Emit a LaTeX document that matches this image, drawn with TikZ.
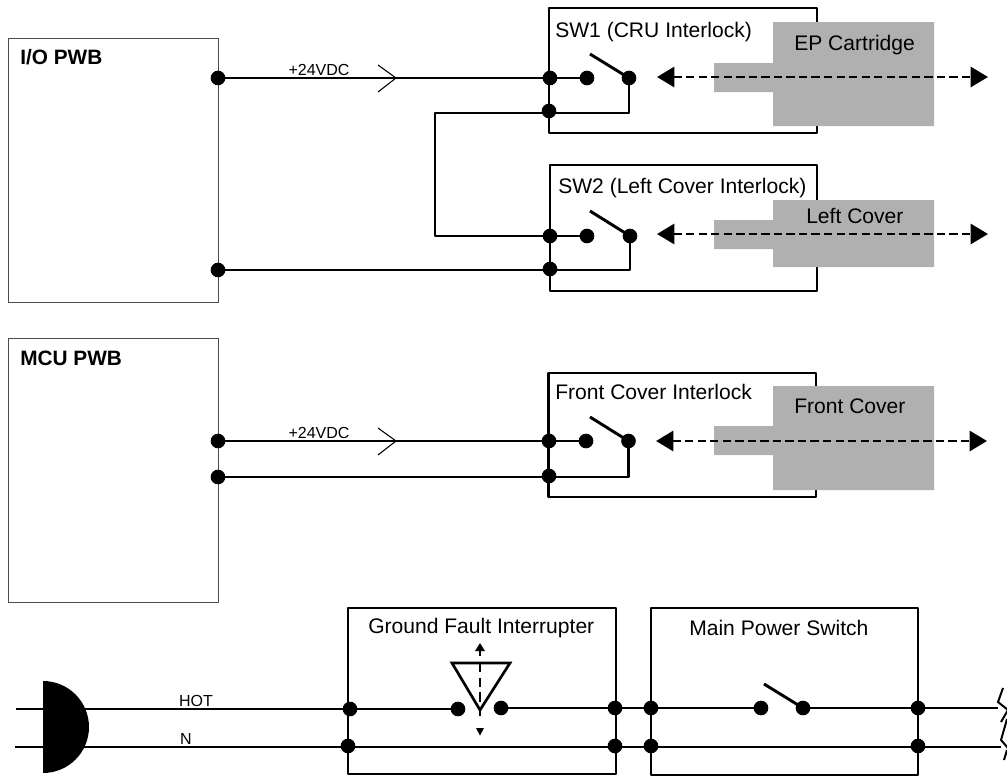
\documentclass[tikz,border=0pt]{standalone}
\usepackage{fontspec}
\setmainfont{Liberation Sans}
\usetikzlibrary{arrows.meta}
\tikzset{
  wire/.style={line width=2.2pt,line join=round},
  ibox/.style={draw=black!70,line width=0.8pt,fill=white},
  swbox/.style={draw=black,line width=2.2pt,line join=round},
  graypart/.style={fill=black!31,draw=none},
  dotn/.style={circle,fill=black,draw=none,minimum size=11pt,inner sep=0pt},
  dasharrow/.style={line width=2.2pt,dash pattern=on 6.2pt off 3.2pt,{Triangle[length=13pt,width=15pt]}-{Triangle[length=13pt,width=15pt]}},
  lbl/.style={font=\fontsize{15.8}{18}\selectfont,inner sep=0pt,anchor=base west},
  blbl/.style={font=\fontsize{15.6}{18}\selectfont\bfseries,inner sep=0pt,anchor=base west},
  small/.style={font=\fontsize{12}{14}\selectfont,inner sep=0pt,anchor=base},
}
\begin{document}
\begin{tikzpicture}[x=0.75pt,y=-0.75pt]
\useasboundingbox (0,0) rectangle (1007,778);
% PWB boxes
\node[ibox,minimum width=157.5pt,minimum height=198pt,inner sep=0pt,anchor=north west] (io) at (8,38) {};
\node[ibox,minimum width=157.5pt,minimum height=198pt,inner sep=0pt,anchor=north west] (mcu) at (8,338) {};
\node[blbl] (iot) at (20,64) {I/O PWB};
\node[blbl] (mcut) at (20,365) {MCU PWB};
% Switch boxes
\draw[swbox] (549,8) rectangle (817,133);
\draw[swbox] (550,165) rectangle (817,291);
\draw[swbox] (548.5,373) rectangle (816,497);
\draw[swbox] (348,608) rectangle (616,774);
\draw[swbox] (651,608) rectangle (918,775);
% gray parts
\fill[graypart] (773,22) rectangle (934,126) (714,63) rectangle (773,92);
\fill[graypart] (773,200) rectangle (934,267) (714,220) rectangle (773,249);
\fill[graypart] (773,386) rectangle (934,490) (714,426) rectangle (773,455);
\node[lbl] at (794,50) {EP Cartridge};
\node[lbl] at (806,223) {Left Cover};
\node[lbl] at (794,413) {Front Cover};
\node[lbl] at (555,37) {SW1 (CRU Interlock)};
\node[lbl] at (558,193) {SW2 (Left Cover Interlock)};
\node[lbl] at (555,399) {Front Cover Interlock};
\node[lbl] at (368,633) {Ground Fault Interrupter};
\node[lbl] at (689,635) {Main Power Switch};
% dots
\foreach \n/\x/\y in {a/218/78,b/218/270,c/218/441,d/218/477,
 e/550/78,f/549/111,g/587/78,h/629/78,
 i/550/236,j/550/269,k/587/236,l/630/236,
 m/549/441,n/549/476,o/586/441,p/628.5/441,
 q/350/709,r/348/746,s/458/709,t/501/708,
 u/615/708,v/615/746,w/651/708,x/651/746,
 y/761/708,z/803/708,aa/918/708,ab/918/746}
  \node[dotn] (\n) at (\x,\y) {};
% coordinates
\coordinate (sw1) at (590,54);
\coordinate (sw2) at (590,211);
\coordinate (sw3) at (590,417);
\coordinate (sw4) at (764,684);
\coordinate (c1) at (629,113);
\coordinate (c2) at (435,113);
\coordinate (c3) at (435,236);
\coordinate (c4) at (630,270);
\coordinate (c5) at (628.5,477);
% wires
\draw[wire] (a.center) -- (e.center);
\draw[wire] (e.center) -- (g.center);
\draw[wire] (h.center) -- (sw1);
\draw[wire] (h.center) -- (c1) -- (c2) -- (c3) -- (k.center);
\draw[wire] (l.center) -- (sw2);
\draw[wire] (l.center) -- (c4) -- (b.center);
\draw[wire] (c.center) -- (o.center);
\draw[wire] (p.center) -- (sw3);
\draw[wire] (p.center) -- (c5) -- (d.center);
% +24VDC
\node[small] (v1) at (319,75) {+24VDC};
\node[small] (v2) at (319,438) {+24VDC};
\draw[line width=0.8pt] (378,65) -- (396,78) -- (378,92);
\draw[line width=0.8pt] (378,428) -- (396,441) -- (378,455);
% dashed arrows
\coordinate (al1) at (657,77); \coordinate (ar1) at (988,77);
\coordinate (al2) at (657,234); \coordinate (ar2) at (988,234);
\coordinate (al3) at (656,441); \coordinate (ar3) at (987,441);
\draw[dasharrow] (al1) -- (ar1);
\draw[dasharrow] (al2) -- (ar2);
\draw[dasharrow] (al3) -- (ar3);
% bottom
\fill[black] (43,773) arc[start angle=90,end angle=-90,x radius=46,y radius=46] -- cycle;
\coordinate (hl) at (16,709);
\coordinate (nl) at (15,747);
\coordinate (hr) at (998,708);
\coordinate (nr) at (1001,747);
\draw[wire] (hl) -- (s.center);
\draw[wire] (nl) -- (nr);
\draw[wire] (t.center) -- (y.center);
\draw[wire] (z.center) -- (hr);
\draw[wire] (z.center) -- (sw4);
\node[small] at (196,706) {HOT};
\node[small] at (186,744) {N};
\draw[line width=2pt,line join=miter] (452,663) -- (510,663) -- (480,710) -- cycle;
\draw[line width=1.5pt,dash pattern=on 7pt off 4pt] (480,663) -- (480,720);
\draw[-{Triangle[length=6pt,width=7pt]},line width=1.5pt] (480,656) -- (480,643);
\fill (476,728) -- (484,728) -- (480,735.5) -- cycle;
\draw[line width=1.5pt] (1003,688) -- (998,702) -- (1008,710) -- (1001,722);
\draw[line width=1.5pt] (1007,719) -- (1001,740) -- (1008,748);
\draw[line width=1.5pt] (1007,750) -- (1004,760);
\end{tikzpicture}
\end{document}
